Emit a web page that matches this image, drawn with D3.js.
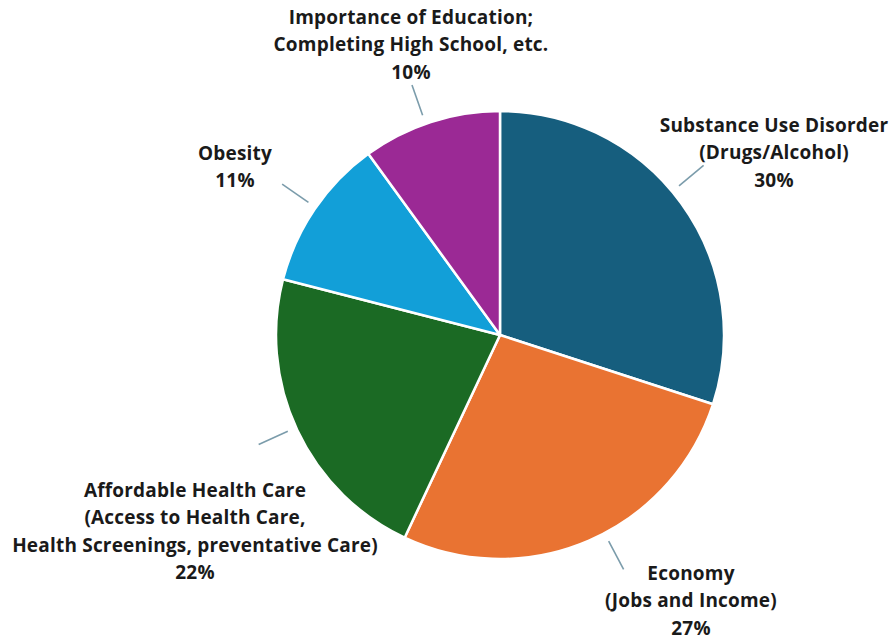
<!DOCTYPE html>
<html>
<head>
<meta charset="utf-8">
<script src="https://cdn.jsdelivr.net/npm/d3@7"></script>
<style>
  html, body { margin: 0; padding: 0; background: #ffffff; }
  svg { display: block; }
  .lbl { font-family: "Open Sans", "Noto Sans", sans-serif; font-weight: 700; font-size: 19px; letter-spacing: 0.2px; fill: #1a1a1a; }
</style>
</head>
<body>
<svg id="chart" width="896" height="640"></svg>
<script>
// Survey results: most important community health issues
const categories = [
  ["Substance Use Disorder", "(Drugs/Alcohol)"],
  ["Economy", "(Jobs and Income)"],
  ["Affordable Health Care", "(Access to Health Care,", "Health Screenings, preventative Care)"],
  ["Obesity"],
  ["Importance of Education;", "Completing High School, etc."]
];
const values = [30, 27, 22, 11, 10];
const colors = ["#165e7e", "#e97332", "#1b6a24", "#129fd8", "#9b2995"];

// First-line position of each label block, relative to the pie centre
const labelOffsets = [[274, -210], [191, 238], [-305, 155], [-265, -182], [-89, -318]];
// Small angular nudge (degrees) for each leader tick
const leaderNudge = [-3.8, -4.4, 0.8, 0.5, -1.4];

const width = 896, height = 640;
const cx = 500, cy = 335, radius = 224;

const svg = d3.select("#chart");
const g = svg.append("g").attr("transform", `translate(${cx},${cy})`);

const data = values.map((v, i) => ({ value: v, lines: categories[i], color: colors[i], off: labelOffsets[i], nudge: leaderNudge[i] }));

const pie = d3.pie().value(d => d.value).sort(null);
const arc = d3.arc().innerRadius(0).outerRadius(radius);
const arcs = pie(data);

g.selectAll("path.slice")
  .data(arcs)
  .join("path")
  .attr("class", "slice")
  .attr("d", arc)
  .attr("fill", d => d.data.color)
  .attr("stroke", "#ffffff")
  .attr("stroke-width", 2.5)
  .attr("stroke-linejoin", "round");

// Short leader ticks just outside the rim
const polar = (d, r) => {
  const a = (d.startAngle + d.endAngle) / 2 + d.data.nudge * Math.PI / 180;
  return [r * Math.sin(a), -r * Math.cos(a)];
};
g.selectAll("line.leader")
  .data(arcs)
  .join("line")
  .attr("class", "leader")
  .attr("x1", d => polar(d, 233)[0])
  .attr("y1", d => polar(d, 233)[1])
  .attr("x2", d => polar(d, 265)[0])
  .attr("y2", d => polar(d, 265)[1])
  .attr("stroke", "#7b9cab")
  .attr("stroke-width", 1.6);

const lineH = 27.5;
const labels = g.selectAll("text.lbl")
  .data(arcs)
  .join("text")
  .attr("class", "lbl")
  .attr("text-anchor", "middle")
  .attr("transform", d => `translate(${d.data.off[0]},${d.data.off[1]})`);

labels.each(function(d) {
  const t = d3.select(this);
  const rows = d.data.lines.concat([d.data.value + "%"]);
  rows.forEach((r, i) => {
    t.append("tspan").attr("x", 0).attr("y", i * lineH).attr("dy", "0.35em").text(r);
  });
});
</script>
</body>
</html>
